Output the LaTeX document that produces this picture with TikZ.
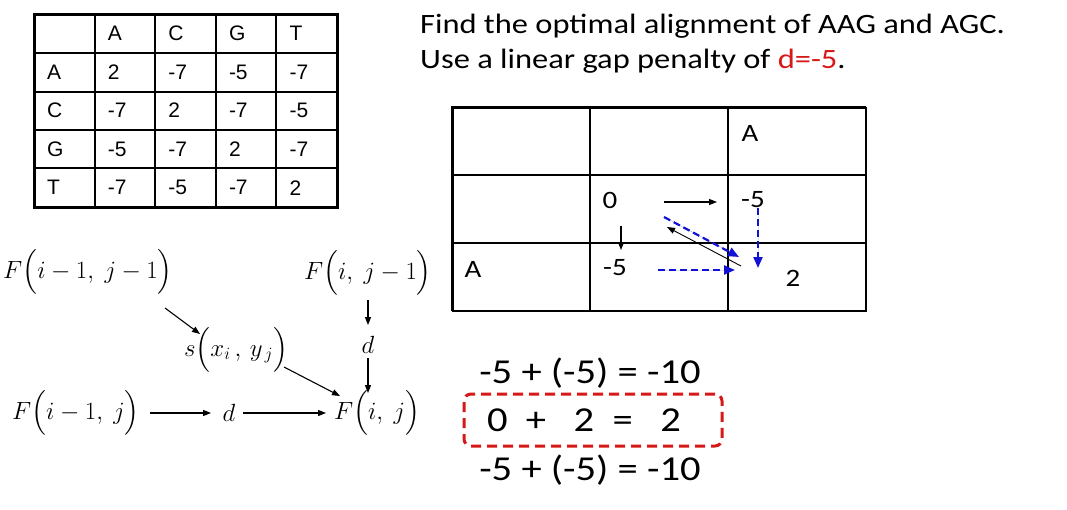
\documentclass[tikz,border=0pt]{standalone}
\usepackage{amsmath}
\usepackage{fontspec}
\setmainfont[FakeStretch=1.16]{Carlito}
\newfontfamily\arialfont{Liberation Sans}
\usetikzlibrary{arrows.meta,positioning}
\definecolor{gapred}{RGB}{214,24,24}
\definecolor{traceblue}{RGB}{18,18,214}
\tikzset{
  cell/.style={anchor=west, inner sep=0pt, font=\arialfont\fontsize{21}{24}\selectfont},
  dpcell/.style={inner sep=0pt, font=\fontsize{25}{30}\selectfont},
  formula/.style={inner sep=1pt, font=\fontsize{24}{28}\selectfont},
  sumline/.style={inner sep=1pt, font=\fontsize{35}{42}\selectfont},
  move/.style={-{Triangle[length=8pt,width=6pt]}, line width=1.1pt},
  trace/.style={
      -{Triangle[length=11pt,width=9pt]},
      draw=traceblue,
      fill=traceblue,
      line width=2.2pt,
      dash pattern=on 7pt off 4pt
  }
}
\begin{document}
\begin{tikzpicture}[x=1pt,y=-1pt]
  \useasboundingbox (0,0) rectangle (1067,509);

  % substitution matrix
  \foreach \x in {95,155,216,276}
    \draw[line width=1.4pt] (\x,14) -- (\x,207);
  \foreach \y in {53,92,130,168}
    \draw[line width=1.4pt] (34,\y) -- (337,\y);
  \draw[line width=3pt] (34,14) rectangle (337,207);
  \foreach \c [count=\i] in {A,C,G,T}
    \node[cell] (col\c) at ({34+60.6*\i+13},33.5) {\c};
  \foreach \r/\vals [count=\i] in {A/{2,-7,-5,-7},C/{-7,2,-7,-5},G/{-5,-7,2,-7},T/{-7,-5,-7,2}}
  {
    \node[cell] (row\r) at (47,{14+38.6*\i+19.3}) {\r};
    \foreach \v [count=\j] in \vals
      \node[cell] (s\r\j) at ({34+60.6*\j+13},{14+38.6*\i+19.3}) {\v};
  }

  % task
  \node[anchor=base west, inner sep=0pt, font=\fontsize{28}{32}\selectfont] (task) at (420,33)
    {Find the optimal alignment of AAG and AGC.};
  \node[anchor=base west, inner sep=0pt, font=\fontsize{28}{32}\selectfont] (gap) at (420,68)
    {Use a linear gap penalty of \textcolor{gapred}{d=-5}.};

  % dynamic programming table
  \foreach \x in {590,728}
    \draw[line width=1.6pt] (\x,107) -- (\x,311);
  \foreach \y in {175,243}
    \draw[line width=1.6pt] (452,\y) -- (866,\y);
  \draw[line width=1.6pt] (866,107) -- (866,311) -- (452,311);
  \draw[line width=3pt] (452,311) -- (452,107) -- (866,107);
  \node[dpcell] (topA) at (750,133) {A};
  \node[dpcell] (zero) at (610,200) {0};
  \node[dpcell] (upper) at (753,200) {-5};
  \node[dpcell] (leftA) at (473,269) {A};
  \node[dpcell] (lower) at (615,268) {-5};
  \node[dpcell] (best) at (793,278) {2};

  \coordinate (r0) at (664,202);  \coordinate (r1) at (717,202);
  \coordinate (d0) at (621,226);  \coordinate (d1) at (621,250);
  \coordinate (b0) at (741,266);  \coordinate (b1) at (667,227);
  \draw[move] (r0) -- (r1);
  \draw[move] (d0) -- (d1);
  \draw[move, line width=0.9pt] (b0) -- (b1);
  \coordinate (t0) at (664,217);  \coordinate (t1) at (739,257);
  \coordinate (h0) at (658,270);  \coordinate (h1) at (735,270);
  \coordinate (v0) at (758,208);  \coordinate (v1) at (758,268);
  \draw[trace] (t0) -- (t1);
  \draw[trace] (h0) -- (h1);
  \draw[trace] (v0) -- (v1);

  % recurrence
  \node[formula] (fdiag) at (88,272) {$F\Bigl(i-1,\ j-1\Bigr)$};
  \node[formula] (ftop) at (368,273) {$F\Bigl(i,\ j-1\Bigr)$};
  \node[formula] (score) at (236,350) {$s\Bigl(x_{i}\,,\,y_{\,j}\Bigr)$};
  \node[formula] (dtop) at (368,345) {$d$};
  \node[formula] (fleft) at (76,413) {$F\Bigl(i-1,\ j\Bigr)$};
  \node[formula] (dmid) at (229,413) {$d$};
  \node[formula] (fij) at (377,413) {$F\Bigl(i,\ j\Bigr)$};
  \draw[move] ([shift={(77,36)}]fdiag.center) -- ([shift={(-36,-16)}]score.center);
  \draw[move] ([shift={(48,17)}]score.center) -- ([shift={(-37,-17)}]fij.center);
  \draw[move] ([xshift=74pt]fleft.center) -- ([xshift=-18pt]dmid.center);
  \draw[move] ([xshift=14pt]dmid.center) -- ([xshift=-51pt]fij.center);
  \draw[move] ([shift={(0,27)}]ftop.center) -- ([shift={(0,-20)}]dtop.center);
  \draw[move] ([shift={(0,13)}]dtop.center) -- ([shift={(0,48)}]dtop.center);

  % candidate sums
  \node[sumline] (diagsum) at (590,373) {-5 + (-5) = -10};
  \node[sumline, draw=gapred, line width=3pt, dash pattern=on 10pt off 6pt,
        rounded corners=7pt, minimum width=258pt, minimum height=52pt] (bestsum) at (593,420)
    {0\ \ +\ \ \ 2\ \ =\ \ \ 2\kern18pt};
  \node[sumline] (leftsum) at (590,470) {-5 + (-5) = -10};
\end{tikzpicture}
\end{document}
